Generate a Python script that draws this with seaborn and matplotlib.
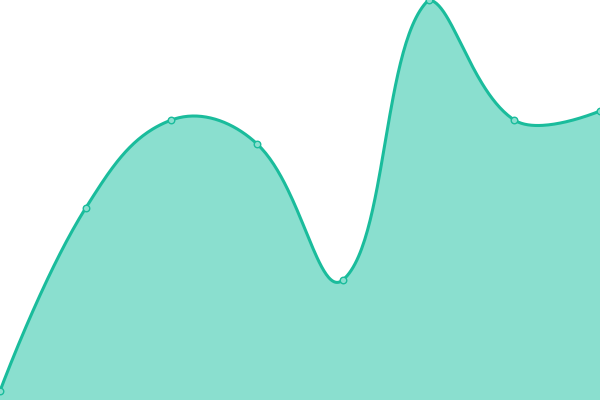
"""Smoothed area chart with point markers, no axes."""

import matplotlib
matplotlib.use("Agg")
import matplotlib.pyplot as plt
import numpy as np
import pandas as pd
import seaborn as sns

# data
positions = [0, 1, 2, 3, 4, 5, 6, 7]
values = [9, 192, 280, 256, 120, 400, 280, 289]

LINE_COLOR = "#1abc9c"
FILL_COLOR = "#8adfcf"
X_PX = 600 / 7  # pixel width of one step, used so the smoothing works in screen space
Y_MAX = 400


def smooth_curve(xs, ys, tension=0.4, steps=60):
    """Bezier smoothing between points, control points capped to the plot area."""
    px = np.asarray(xs, dtype=float) * X_PX
    py = np.asarray(ys, dtype=float)
    n = len(px)
    x_max = px[-1]
    cps = []
    for i in range(n):
        if i == 0 or i == n - 1:
            cps.append(((px[i], py[i]), (px[i], py[i])))
            continue
        vx = px[i + 1] - px[i - 1]
        vy = py[i + 1] - py[i - 1]
        d01 = np.hypot(px[i] - px[i - 1], py[i] - py[i - 1])
        d12 = np.hypot(px[i + 1] - px[i], py[i + 1] - py[i])
        s01 = d01 / (d01 + d12)
        s12 = d12 / (d01 + d12)
        cp_in = [px[i] - vx * tension * s01, py[i] - vy * tension * s01]
        cp_out = [px[i] + vx * tension * s12, py[i] + vy * tension * s12]
        for cp in (cp_in, cp_out):
            cp[0] = min(max(cp[0], 0), x_max)
            cp[1] = min(max(cp[1], 0), Y_MAX)
        cps.append((tuple(cp_in), tuple(cp_out)))
    t = np.linspace(0, 1, steps)
    out_x, out_y = [], []
    for i in range(n - 1):
        p0 = np.array([px[i], py[i]])
        p1 = np.array(cps[i][1])
        p2 = np.array(cps[i + 1][0])
        p3 = np.array([px[i + 1], py[i + 1]])
        seg = ((1 - t) ** 3)[:, None] * p0 + (3 * (1 - t) ** 2 * t)[:, None] * p1 \
            + (3 * (1 - t) * t ** 2)[:, None] * p2 + (t ** 3)[:, None] * p3
        if i > 0:
            seg = seg[1:]
        out_x.append(seg[:, 0])
        out_y.append(seg[:, 1])
    return np.concatenate(out_x) / X_PX, np.concatenate(out_y)


sns.set_style("white")

points = pd.DataFrame({"x": positions, "y": values})
cx, cy = smooth_curve(positions, values)
curve = pd.DataFrame({"x": cx, "y": cy})

fig = plt.figure(figsize=(6, 4), dpi=100)
ax = fig.add_axes([0, 0, 1, 1])

ax.fill_between(curve["x"], curve["y"], 0, color=FILL_COLOR, linewidth=0, zorder=1)
sns.lineplot(data=curve, x="x", y="y", color=LINE_COLOR, linewidth=2.2,
             sort=False, estimator=None, ax=ax, zorder=2)
sns.scatterplot(data=points, x="x", y="y", color=FILL_COLOR, edgecolor=LINE_COLOR,
                s=22, linewidth=1, ax=ax, zorder=3)

ax.set_xlim(0, 7)
ax.set_ylim(0, Y_MAX)
ax.axis("off")

fig.savefig("out.png", dpi=100)
plt.close(fig)
